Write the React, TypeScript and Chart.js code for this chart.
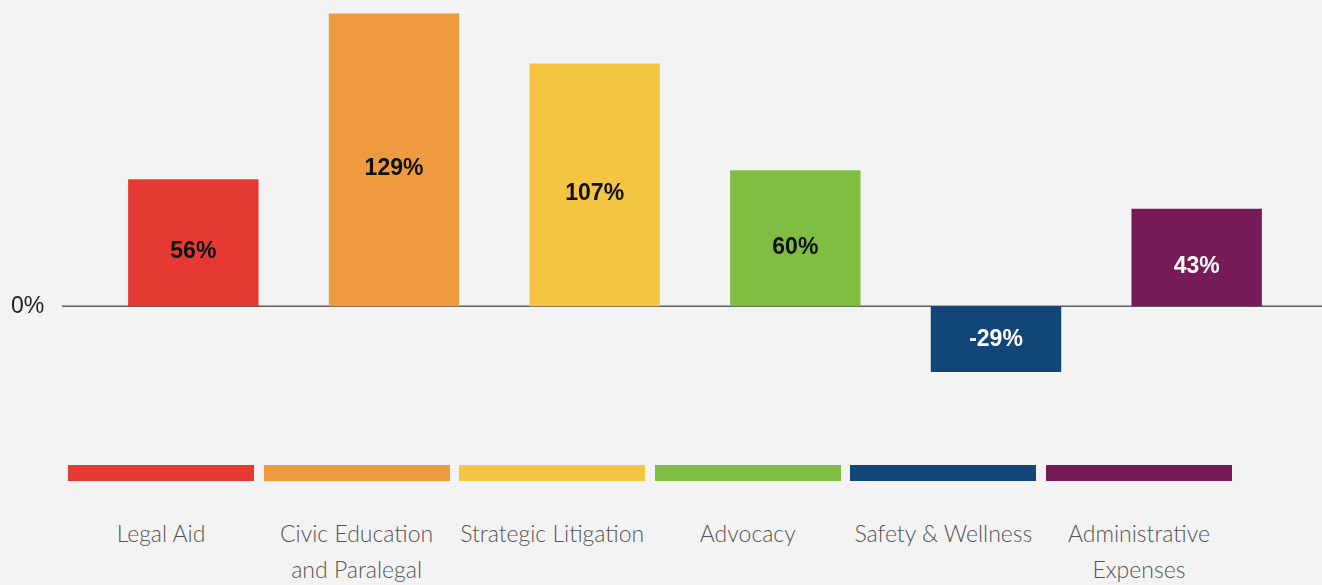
import React, { useEffect, useRef } from "react";
import { Chart, registerables } from "chart.js";

Chart.register(...registerables);

const categories: string[][] = [
  ["Legal Aid"],
  ["Civic Education", "and Paralegal"],
  ["Strategic Litigation"],
  ["Advocacy"],
  ["Safety & Wellness"],
  ["Administrative", "Expenses"],
];
const values = [56, 129, 107, 60, -29, 43];
const barColors = ["#E53A33", "#EE9B40", "#F4C542", "#80BE43", "#134678", "#771B58"];
const valueLabelColors = ["#111111", "#111111", "#111111", "#111111", "#ffffff", "#ffffff"];
const zeroTickLabel = "0%";

const W = 1322;
const CH = 397;

export default function App() {
  const ref = useRef<HTMLCanvasElement | null>(null);

  useEffect(() => {
    if (!ref.current) return;
    const zeroLinePlugin = {
      id: "zeroLine",
      beforeDatasetsDraw(chart: any) {
        const ctx = chart.ctx;
        const y = chart.scales.y.getPixelForValue(0);
        ctx.save();
        ctx.strokeStyle = "#5f5f5f";
        ctx.lineWidth = 1.5;
        ctx.beginPath();
        ctx.moveTo(62, y);
        ctx.lineTo(chart.width, y);
        ctx.stroke();
        ctx.fillStyle = "#222222";
        ctx.font = "23px 'Liberation Sans', Arial, sans-serif";
        ctx.textAlign = "left";
        ctx.textBaseline = "middle";
        ctx.fillText(zeroTickLabel, 11, y);
        ctx.restore();
      },
    };
    const valueLabelPlugin = {
      id: "valueLabels",
      afterDatasetsDraw(chart: any) {
        const ctx = chart.ctx;
        const meta = chart.getDatasetMeta(0);
        ctx.save();
        ctx.font = "bold 23px 'Liberation Sans', Arial, sans-serif";
        ctx.textAlign = "center";
        ctx.textBaseline = "middle";
        meta.data.forEach((bar: any, i: number) => {
          const cy = (bar.y + bar.base) / 2 + (values[i] > 0 ? 9 : 1);
          ctx.fillStyle = valueLabelColors[i];
          ctx.fillText(values[i] + "%", bar.x, cy);
        });
        ctx.restore();
      },
    };
    const chart = new Chart(ref.current, {
      type: "bar",
      data: {
        labels: categories,
        datasets: [
          {
            data: values,
            backgroundColor: barColors,
            borderWidth: 0,
            barPercentage: 0.65,
            categoryPercentage: 1,
          },
        ],
      },
      options: {
        responsive: false,
        animation: false,
        layout: { padding: { left: 93, right: 25, top: 0, bottom: 0 } },
        scales: {
          x: { display: false },
          y: { display: false, min: -40, max: 135 },
        },
        plugins: {
          legend: { display: false },
          tooltip: { enabled: false },
        },
      },
      plugins: [zeroLinePlugin, valueLabelPlugin],
    });
    return () => chart.destroy();
  }, []);

  return (
    <div
      style={{
        position: "absolute",
        left: 0,
        top: 0,
        width: W,
        height: 585,
        background: "#f3f3f3",
        overflow: "hidden",
      }}
    >
      <canvas ref={ref} width={W} height={CH} style={{ position: "absolute", left: 0, top: 0 }} />
      <div
        style={{
          position: "absolute",
          left: 68,
          top: 465,
          display: "flex",
          gap: 9.6,
        }}
      >
        {categories.map((lines, i) => (
          <div key={i} style={{ width: 186, textAlign: "center" }}>
            <div style={{ height: 16, background: barColors[i] }} />
            <div
              style={{
                marginTop: 34,
                fontFamily: "Lato, 'Open Sans', sans-serif",
                fontWeight: 300,
                fontSize: 23,
                lineHeight: "36px",
                color: "#555555",
                whiteSpace: "nowrap",
              }}
            >
              {lines.map((l, j) => (
                <div key={j}>{l}</div>
              ))}
            </div>
          </div>
        ))}
      </div>
    </div>
  );
}
